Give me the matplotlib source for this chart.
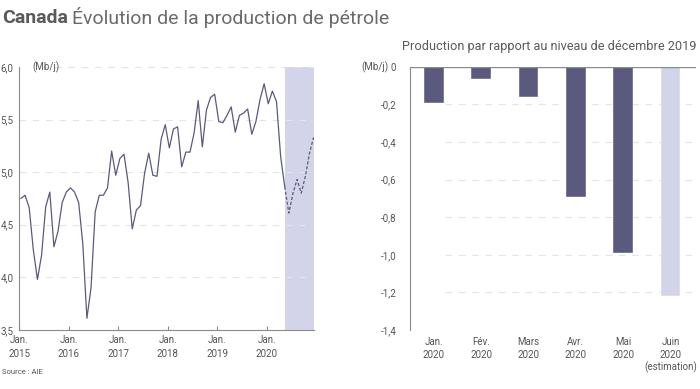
import matplotlib
matplotlib.use("Agg")
import matplotlib.pyplot as plt
from matplotlib.transforms import offset_copy

plt.rcParams['font.family'] = ['Roboto', 'DejaVu Sans']

# Monthly production, Jan 2015 -> Dec 2020 (Mb/j)
production = [
    4.75, 4.78, 4.66, 4.26, 3.98, 4.21, 4.67, 4.81, 4.29, 4.44, 4.71, 4.81,   # 2015
    4.85, 4.81, 4.71, 4.32, 3.61, 3.90, 4.62, 4.78, 4.78, 4.85, 5.20, 4.97,   # 2016
    5.13, 5.17, 4.90, 4.46, 4.64, 4.68, 4.99, 5.18, 4.97, 4.96, 5.31, 5.45,   # 2017
    5.23, 5.41, 5.43, 5.05, 5.19, 5.19, 5.37, 5.68, 5.24, 5.59, 5.71, 5.74,   # 2018
    5.48, 5.47, 5.54, 5.62, 5.38, 5.54, 5.56, 5.60, 5.36, 5.48, 5.69, 5.84,   # 2019
    5.65, 5.77, 5.67, 5.15, 4.86, 4.61, 4.80, 4.93, 4.80, 4.96, 5.18, 5.33,   # 2020
]
n_actual = 65          # solid through May 2020, dashed (forecast) after
year_labels = ["Jan.\n2015", "Jan.\n2016", "Jan.\n2017",
               "Jan.\n2018", "Jan.\n2019", "Jan.\n2020"]

# Change vs December 2019 level
month_names = ["Jan.", "Fév.", "Mars", "Avr.", "Mai", "Juin"]
month_years = ["2020", "2020", "2020", "2020", "2020", "2020"]
change = [-0.19, -0.065, -0.16, -0.69, -0.99, -1.22]
is_estimate = [False, False, False, False, False, True]

DARK = "#5b597e"
LIGHT = "#d3d3ea"
TEXT = "#555555"
GRID = "#e4e4e4"
AXIS = "#8a8a8a"

fig = plt.figure(figsize=(7, 3.89), dpi=100)

# title: bold country name followed by regular text
t1 = fig.text(0.003, 0.955, "Canada", fontsize=14, fontweight="bold", color="#5a5a5a",
              va="center", ha="left")
fig.canvas.draw()
w = t1.get_window_extent().width
fig.text(0.003, 0.955, "Évolution de la production de pétrole", fontsize=14,
         color="#6a6a6a", va="center", ha="left",
         transform=offset_copy(fig.transFigure, fig=fig, x=w + 4, units="dots"))
fig.text(0.003, 0.043, "Source : AIE", fontsize=5.5, color=TEXT, va="center")

# ---- left: line chart
ax1 = fig.add_axes([0.027, 0.152, 0.421, 0.676])
x = list(range(len(production)))
ax1.axvspan(n_actual - 1, len(production) - 1, color=LIGHT, lw=0, zorder=0)
ax1.plot(x[:n_actual], production[:n_actual], color=DARK, lw=0.9, zorder=3)
ax1.plot(x[n_actual - 1:], production[n_actual - 1:], color=DARK, lw=0.9,
         ls=(0, (2.5, 1.5)), zorder=3)
ax1.set_xlim(-0.5, len(production) - 1)
ax1.set_ylim(3.5, 6.0)
ax1.set_yticks([3.5, 4.0, 4.5, 5.0, 5.5, 6.0])
ax1.set_yticklabels(["3,5", "4,0", "4,5", "5,0", "5,5", "6,0"])
ax1.set_xticks([i * 12 - 0.4 for i in range(len(year_labels))])
ax1.set_xticklabels(year_labels, linespacing=1.45)
for y in [4.0, 4.5, 5.0, 5.5, 6.0]:
    ax1.axhline(y, xmin=0.075 if y == 6.0 else 0.0, color=GRID, lw=0.8,
                ls=(0, (6, 6)), zorder=1)
ax1.text(2.7, 6.0, "(Mb/j)", fontsize=7, color=TEXT, va="center", ha="left")

# ---- right: bar chart
ax2 = fig.add_axes([0.586, 0.152, 0.409, 0.676])
bx = list(range(len(change)))
colors = [LIGHT if e else DARK for e in is_estimate]
ax2.bar(bx, change, width=0.42, color=colors, edgecolor="white", lw=0.3, zorder=3)
ax2.set_xlim(-0.5, 5.55)
ax2.set_ylim(-1.4, 0)
ax2.set_yticks([0, -0.2, -0.4, -0.6, -0.8, -1.0, -1.2, -1.4])
ax2.set_yticklabels(["0", "-0,2", "-0,4", "-0,6", "-0,8", "-1,0", "-1,2", "-1,4"])
ax2.set_xticks([])
xt = ax2.get_xaxis_transform()
for i in bx:
    ax2.text(i, -0.028, month_names[i], transform=xt, ha="center", va="top",
             fontsize=7, color=TEXT)
    ax2.text(i, -0.075, month_years[i], transform=xt, ha="center", va="top",
             fontsize=7, color=TEXT)
    if is_estimate[i]:
        ax2.text(i, -0.122, "(estimation)", transform=xt, ha="center", va="top",
                 fontsize=7, color=TEXT)
for y in [-0.2, -0.4, -0.6, -0.8, -1.0, -1.2, -1.4]:
    ax2.axhline(y, xmin=0.12, color=GRID, lw=0.8, ls=(0, (6, 6)), zorder=1)
ax2.axhline(0, color=AXIS, lw=1.0, zorder=4)
ax2.set_title("Production par rapport au niveau de décembre 2019", fontsize=9.2,
              color="#5a5a5a", loc="right", pad=12)
ax2.text(-0.075, 1.0, "(Mb/j)", transform=ax2.transAxes, fontsize=7, color=TEXT,
         va="center", ha="right")

for ax in (ax1, ax2):
    for s in ("top", "right"):
        ax.spines[s].set_visible(False)
    ax.spines["left"].set_color(AXIS)
    ax.spines["bottom"].set_color(AXIS)
    ax.tick_params(axis="y", length=0, labelsize=7, labelcolor=TEXT, pad=4)
    ax.set_facecolor("none")
ax1.tick_params(axis="x", direction="in", length=3, color=AXIS, labelsize=7,
                labelcolor=TEXT, pad=4)
ax2.spines["bottom"].set_visible(False)
ax2.tick_params(axis="y", pad=10)

fig.savefig("out.png", dpi=100)
